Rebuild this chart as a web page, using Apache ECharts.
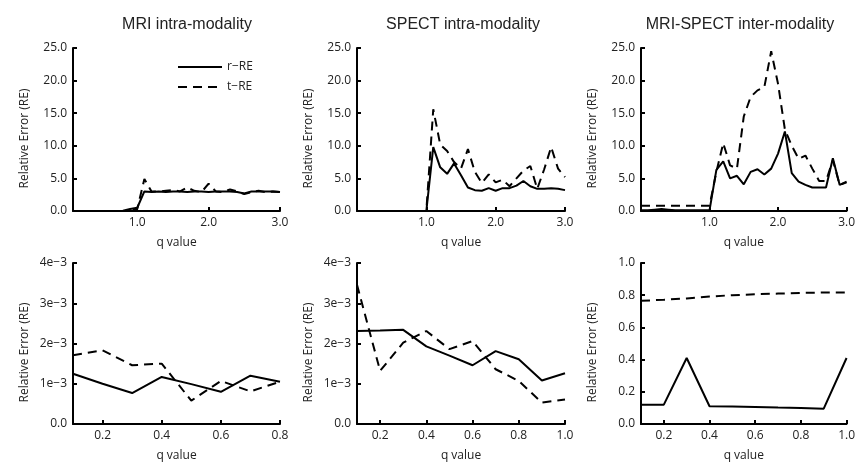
<html><head><meta charset="UTF-8">
<script src="https://cdn.jsdelivr.net/npm/echarts@6/dist/echarts.min.js"></script>
<style>html,body,#c{width:100%;height:100%;margin:0}</style></head>
<body><div id="c"></div>
<script>
// q values: top row (0.0 .. 3.0), MRI top panel starts at 0.1, bottom row
var qTop = [0.0, 0.1, 0.2, 0.3, 0.4, 0.5, 0.6, 0.7, 0.8, 0.9, 1.0,
            1.1, 1.2, 1.3, 1.4, 1.5, 1.6, 1.7, 1.8, 1.9, 2.0,
            2.1, 2.2, 2.3, 2.4, 2.5, 2.6, 2.7, 2.8, 2.9, 3.0];
var qMriTop = qTop.slice(1);
var qMri = [0.1, 0.2, 0.3, 0.4, 0.5, 0.6, 0.7, 0.8];
var qLow = [0.1, 0.2, 0.3, 0.4, 0.5, 0.6, 0.7, 0.8, 0.9, 1.0];

// top row: r-RE (solid) and t-RE (dashed)
var mriR   = [0, 0, 0, 0, 0, 0, 0, 0.05, 0.3, 0.5, 3.0, 2.9, 3.0, 2.9, 3.0, 3.0, 2.9, 3.0, 3.0, 2.9, 3.0, 3.0, 3.0, 2.9, 2.7, 3.0, 3.0, 3.0, 3.0, 2.9];
var mriT   = [0, 0, 0, 0, 0, 0, 0, 0, 0, 0.3, 4.9, 3.0, 3.0, 3.1, 3.2, 3.0, 3.6, 3.1, 2.9, 4.2, 3.0, 2.9, 3.3, 3.0, 2.6, 2.9, 3.1, 2.9, 3.0, 2.9];
var spectR = [0, 0, 0, 0, 0, 0, 0, 0, 0, 0, 0, 9.8, 6.7, 5.7, 7.3, 5.5, 3.6, 3.2, 3.1, 3.5, 3.1, 3.5, 3.5, 3.9, 4.6, 3.8, 3.4, 3.4, 3.5, 3.4, 3.2];
var spectT = [0, 0, 0, 0, 0, 0, 0, 0, 0, 0, 0, 15.6, 10.2, 9.2, 7.5, 6.5, 9.5, 6.0, 4.3, 5.6, 4.4, 4.8, 3.8, 5.0, 6.2, 6.9, 3.4, 6.4, 9.8, 6.5, 5.2];
var interR = [0.1, 0.1, 0.2, 0.3, 0.2, 0.1, 0.1, 0.1, 0.1, 0.1, 0.1, 6.3, 7.6, 5.0, 5.4, 4.1, 6.0, 6.4, 5.6, 6.5, 8.8, 12.2, 5.8, 4.5, 4.0, 3.6, 3.6, 3.6, 8.1, 4.0, 4.5];
var interT = [0.8, 0.8, 0.8, 0.8, 0.8, 0.8, 0.8, 0.8, 0.8, 0.8, 0.8, 6.0, 10.4, 7.0, 6.5, 14.5, 17.5, 18.5, 19.0, 24.5, 19.5, 12.5, 10.0, 8.0, 8.5, 6.5, 4.6, 4.6, 7.8, 4.0, 4.4];

// bottom row
var mriLowR   = [1.25e-3, 1.0e-3, 0.77e-3, 1.17e-3, 0.99e-3, 0.8e-3, 1.2e-3, 1.05e-3];
var mriLowT   = [1.71e-3, 1.83e-3, 1.46e-3, 1.5e-3, 0.58e-3, 1.07e-3, 0.81e-3, 1.05e-3];
var spectLowR = [2.31e-3, 2.32e-3, 2.34e-3, 1.93e-3, 1.7e-3, 1.46e-3, 1.81e-3, 1.61e-3, 1.08e-3, 1.26e-3];
var spectLowT = [3.46e-3, 1.32e-3, 2.02e-3, 2.31e-3, 1.86e-3, 2.06e-3, 1.36e-3, 1.07e-3, 0.53e-3, 0.61e-3];
var interLowR = [0.12, 0.12, 0.41, 0.11, 0.108, 0.105, 0.102, 0.1, 0.095, 0.41];
var interLowT = [0.765, 0.772, 0.78, 0.792, 0.8, 0.806, 0.81, 0.814, 0.817, 0.817];

var titles = ['MRI intra-modality', 'SPECT intra-modality', 'MRI-SPECT inter-modality'];
var legendNames = ['r\u2212RE', 't\u2212RE'];
var topXTicks = [1, 2, 3];
var mriXTicks = [0.2, 0.4, 0.6, 0.8];
var lowXTicks = [0.2, 0.4, 0.6, 0.8, 1];
var expLabels = ['0.0', '1e\u22123', '2e\u22123', '3e\u22123', '4e\u22123'];

function pairs(xs, ys) {
  var out = [];
  for (var i = 0; i < xs.length; i++) out.push([xs[i], ys[i]]);
  return out;
}

var grids = [
  { left: 73, right: 578, top: 48, bottom: 252 },
  { left: 357, right: 293, top: 48, bottom: 252 },
  { left: 641, right: 10, top: 48, bottom: 252 },
  { left: 73, right: 578, top: 263, bottom: 38 },
  { left: 357, right: 293, top: 263, bottom: 38 },
  { left: 641, right: 10, top: 263, bottom: 38 }
];
var txt = { fontFamily: 'Open Sans', fontSize: 12, color: '#222' };

function xAxis(i, min, max, ticks) {
  return {
    type: 'value', gridIndex: i, min: min, max: max,
    name: 'q value', nameLocation: 'middle', nameGap: 26, nameTextStyle: txt,
    axisLine: { show: true, onZero: false, lineStyle: { color: '#000', width: 2 } },
    axisTick: { show: true, inside: true, length: 4, customValues: ticks, lineStyle: { color: '#000', width: 2 } },
    axisLabel: { customValues: ticks, margin: 6, fontFamily: 'Open Sans', fontSize: 12, color: '#222',
                 formatter: function (v) { return v.toFixed(1); } },
    splitLine: { show: false }
  };
}
function yAxis(i, max, interval, isExp) {
  return {
    type: 'value', gridIndex: i, min: 0, max: max, interval: interval,
    name: 'Relative Error (RE)', nameLocation: 'middle', nameGap: 42,
    nameTextStyle: { fontFamily: 'Open Sans', fontSize: 12, color: '#222', padding: [0, 18, 0, 0] },
    axisLine: { show: true, onZero: false, lineStyle: { color: '#000', width: 2 } },
    axisTick: { show: true, inside: true, length: 4, lineStyle: { color: '#000', width: 2 } },
    axisLabel: { margin: 6, fontFamily: 'Open Sans', fontSize: 12, color: '#222',
                 formatter: function (v) { return isExp ? expLabels[Math.round(v / interval)] : v.toFixed(1); } },
    splitLine: { show: false }
  };
}

var xs = [xAxis(0, 0.1, 3, topXTicks), xAxis(1, 0, 3, topXTicks), xAxis(2, 0, 3, topXTicks),
          xAxis(3, 0.1, 0.8, mriXTicks), xAxis(4, 0.1, 1, lowXTicks), xAxis(5, 0.1, 1, lowXTicks)];
var ys = [yAxis(0, 25, 5, false), yAxis(1, 25, 5, false), yAxis(2, 25, 5, false),
          yAxis(3, 0.004, 0.001, true), yAxis(4, 0.004, 0.001, true), yAxis(5, 1, 0.2, false)];

var panels = [
  [qMriTop, mriR, mriT], [qTop, spectR, spectT], [qTop, interR, interT],
  [qMri, mriLowR, mriLowT], [qLow, spectLowR, spectLowT], [qLow, interLowR, interLowT]
];
var series = [];
for (var i = 0; i < panels.length; i++) {
  series.push({ type: 'line', xAxisIndex: i, yAxisIndex: i, data: pairs(panels[i][0], panels[i][1]),
                symbol: 'none', lineStyle: { color: '#000', width: 2 } });
  series.push({ type: 'line', xAxisIndex: i, yAxisIndex: i, data: pairs(panels[i][0], panels[i][2]),
                symbol: 'none', lineStyle: { color: '#000', width: 2, type: [9, 6] } });
}

// panel titles and the key
var titleX = [187, 463, 740];
var overlay = [];
titles.forEach(function (t, i) {
  overlay.push({ type: 'text', x: titleX[i], y: 25,
    style: { text: t, fill: '#222', font: '16px "Liberation Sans", Arial, sans-serif', textAlign: 'center', textVerticalAlign: 'middle' } });
});
legendNames.forEach(function (n, i) {
  var y = 67 + i * 20;
  overlay.push({ type: 'line', shape: { x1: 178, y1: y, x2: 222, y2: y },
    style: { stroke: '#000', lineWidth: 2, lineDash: i ? [9, 6] : null } });
  overlay.push({ type: 'text', x: 227, y: y,
    style: { text: n, fill: '#222', font: '12px "Open Sans", sans-serif', textVerticalAlign: 'middle' } });
});

var c = echarts.init(document.getElementById('c'));
c.setOption({ animation: false, grid: grids, xAxis: xs, yAxis: ys, series: series, graphic: overlay });
</script></body></html>
